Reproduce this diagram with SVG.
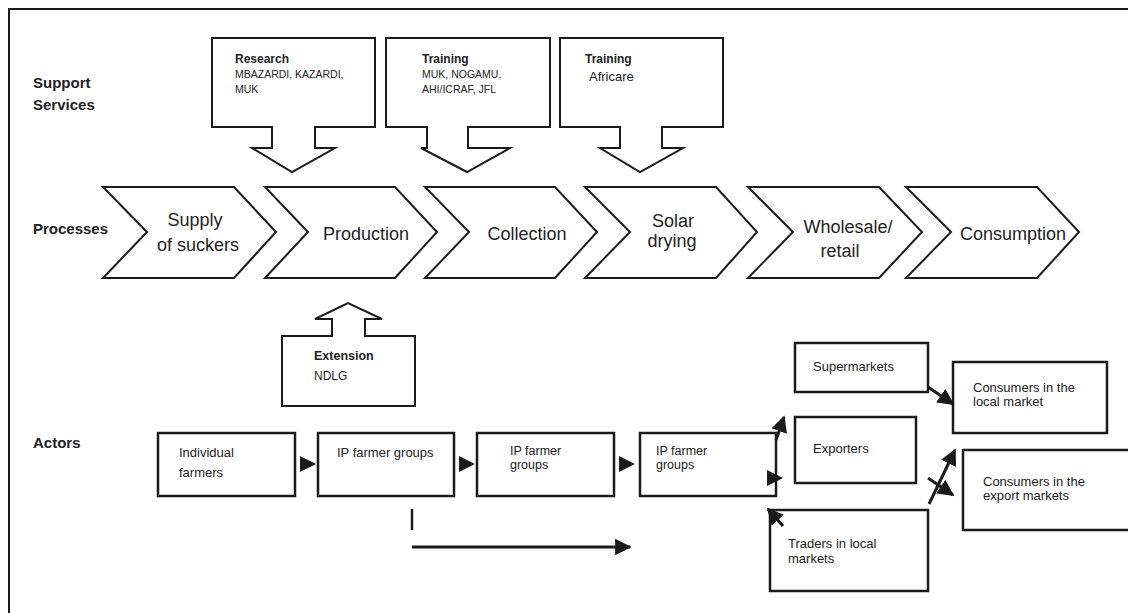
<svg xmlns="http://www.w3.org/2000/svg" width="1128" height="613" viewBox="0 0 1128 613">
<defs>
<style>
.frame{fill:none;stroke:#1a1a1a;stroke-width:2}
.shape{fill:#fff;stroke:#1a1a1a;stroke-width:2;stroke-linejoin:miter}
.box{fill:#fff;stroke:#1a1a1a;stroke-width:2.5}
.lbl{font-family:"Liberation Sans",Arial,sans-serif;font-weight:bold;font-size:15px;fill:#222}
.proc{font-family:"Liberation Sans",Arial,sans-serif;font-size:18px;fill:#222;text-anchor:middle}
.ttl{font-family:"Liberation Sans",Arial,sans-serif;font-weight:bold;font-size:12px;fill:#222}
.sub{font-family:"Liberation Sans",Arial,sans-serif;font-size:10.5px;fill:#222}
.act{font-family:"Liberation Sans",Arial,sans-serif;font-size:13px;fill:#222}
.tight{font-size:12.5px}
.conn{fill:none;stroke:#1a1a1a;stroke-width:3}
.tri{fill:#1a1a1a}
</style>
<marker id="ah" viewBox="0 0 10 10" refX="9" refY="5" markerWidth="5.5" markerHeight="5.5" orient="auto" markerUnits="strokeWidth">
<path d="M0,0 L10,5 L0,10 Z" fill="#1a1a1a"/>
</marker>
</defs>
<rect x="0" y="0" width="1128" height="613" fill="#fff"/>
<path class="frame" d="M9,613 L9,9 L1128,9"/>

<g id="row-labels">
<text class="lbl" x="33" y="88">Support</text>
<text class="lbl" x="33" y="110">Services</text>
<text class="lbl" x="33" y="234">Processes</text>
<text class="lbl" x="33" y="448">Actors</text>
</g>

<g id="support-research">
<path class="shape" d="M212,38 L375,38 L375,127 L315,127 L315,148 L335,148 L292,172 L252,148 L272,148 L272,127 L212,127 Z"/>
<text class="ttl" x="235" y="63">Research</text>
<text class="sub" x="235" y="78">MBAZARDI, KAZARDI,</text>
<text class="sub" x="235" y="93">MUK</text>
</g>
<g id="support-training1">
<path class="shape" d="M386,38 L550,38 L550,127 L468,127 L468,148 L510,148 L467,172 L421,148 L427,148 L427,127 L386,127 Z"/>
<text class="ttl" x="422" y="63">Training</text>
<text class="sub" x="422" y="78">MUK, NOGAMU,</text>
<text class="sub" x="422" y="93">AHI/ICRAF,  JFL</text>
</g>
<g id="support-training2">
<path class="shape" d="M560,38 L723,38 L723,127 L662,127 L662,148 L683,148 L640,172 L600,148 L620,148 L620,127 L560,127 Z"/>
<text class="ttl" x="585" y="63">Training</text>
<text class="act" x="589" y="81">Africare</text>
</g>

<g id="proc-supply">
<path class="shape" d="M103,187 L234,187 L276,232 L234,278 L103,278 L147,232 Z"/>
<text class="proc" x="195" y="226">Supply</text>
<text class="proc" x="198" y="251">of suckers</text>
</g>
<g id="proc-production">
<path class="shape" d="M265,187 L395,187 L437,232 L395,278 L265,278 L308,232 Z"/>
<text class="proc" x="366" y="240">Production</text>
</g>
<g id="proc-collection">
<path class="shape" d="M425,187 L555,187 L597,232 L555,278 L425,278 L469,232 Z"/>
<text class="proc" x="527" y="240">Collection</text>
</g>
<g id="proc-solar">
<path class="shape" d="M585,187 L716,187 L757,232 L716,278 L585,278 L630,232 Z"/>
<text class="proc" x="673" y="227">Solar</text>
<text class="proc" x="672" y="247">drying</text>
</g>
<g id="proc-wholesale">
<path class="shape" d="M748,187 L879,187 L922,232 L879,278 L748,278 L793,232 Z"/>
<text class="proc" x="848" y="233">Wholesale/</text>
<text class="proc" x="840" y="257">retail</text>
</g>
<g id="proc-consumption">
<path class="shape" d="M906,187 L1037,187 L1079,232 L1037,278 L906,278 L951,232 Z"/>
<text class="proc" x="1013" y="240">Consumption</text>
</g>

<g id="support-extension">
<path class="shape" d="M282,336 L332,336 L332,319 L315,319 L348,303 L382,319 L365,319 L365,336 L415,336 L415,406 L282,406 Z"/>
<text class="ttl" x="314" y="360" style="font-size:12.5px">Extension</text>
<text class="act" x="314" y="380" style="font-size:12px">NDLG</text>
</g>

<g id="actor-individual">
<rect class="box" x="158" y="433" width="137" height="63"/>
<text class="act" x="179" y="457">Individual</text>
<text class="act" x="179" y="477">farmers</text>
</g>
<g id="actor-ip1">
<rect class="box" x="318" y="433" width="136" height="63"/>
<text class="act" x="337" y="457">IP farmer groups</text>
</g>
<g id="actor-ip2">
<rect class="box" x="477" y="433" width="137" height="63"/>
<text class="act tight" x="510" y="455">IP farmer</text>
<text class="act tight" x="510" y="469">groups</text>
</g>
<g id="actor-ip3">
<rect class="box" x="640" y="433" width="136" height="63"/>
<text class="act tight" x="656" y="455">IP farmer</text>
<text class="act tight" x="656" y="469">groups</text>
</g>
<g id="actor-supermarkets">
<rect class="box" x="795" y="343" width="133" height="49"/>
<text class="act" x="813" y="371">Supermarkets</text>
</g>
<g id="actor-exporters">
<rect class="box" x="795" y="417" width="121" height="66"/>
<text class="act" x="813" y="453">Exporters</text>
</g>
<g id="actor-traders">
<rect class="box" x="770" y="510" width="158" height="81"/>
<text class="act" x="788" y="548">Traders in local</text>
<text class="act" x="788" y="563">markets</text>
</g>
<g id="actor-consumers-local">
<rect class="box" x="953" y="362" width="154" height="71"/>
<text class="act" x="973" y="392">Consumers in the</text>
<text class="act" x="973" y="406">local market</text>
</g>
<g id="actor-consumers-export">
<path class="box" d="M1128,450 L963,450 L963,530 L1128,530"/>
<text class="act" x="983" y="486">Consumers in the</text>
<text class="act" x="983" y="500">export markets</text>
</g>

<g id="connectors">
<path class="tri" d="M300,456 L316,464 L300,472 Z"/>
<path class="tri" d="M459,456 L475,464 L459,472 Z"/>
<path class="tri" d="M619,456 L635,464 L619,472 Z"/>
<path class="tri" d="M767,470 L783,478 L767,486 Z"/>
<line x1="412" y1="509" x2="412" y2="530" stroke="#1a1a1a" stroke-width="2.5"/>
<line class="conn" x1="412" y1="547" x2="630" y2="547" marker-end="url(#ah)"/>
<line class="conn" x1="776" y1="440" x2="784" y2="417" marker-end="url(#ah)"/>
<line class="conn" x1="783" y1="526" x2="768" y2="509" marker-end="url(#ah)"/>
<line class="conn" x1="928" y1="387" x2="953" y2="404" marker-end="url(#ah)"/>
<line class="conn" x1="929" y1="504" x2="955" y2="450" marker-end="url(#ah)"/>
<line class="conn" x1="928" y1="478" x2="953" y2="495" marker-end="url(#ah)"/>
</g>
</svg>
